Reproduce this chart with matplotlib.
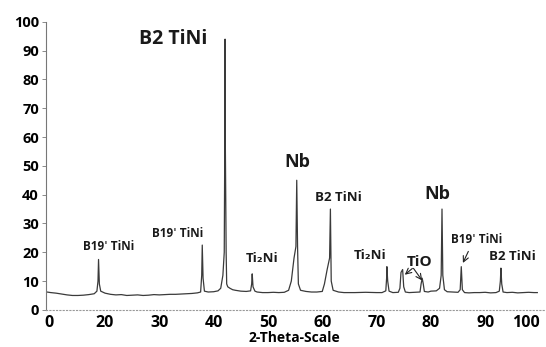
import matplotlib
matplotlib.use("Agg")
import matplotlib.pyplot as plt

# --- Data (2-theta, intensity) ---
two_theta = [9.3, 10, 11, 12, 13, 14, 15, 16, 17, 18, 18.5, 18.7, 18.8, 18.95, 19.2,
             20, 21, 22, 23, 24, 25, 26, 27, 28, 29, 30, 31, 32, 33, 34, 35, 36, 37,
             37.6, 37.8, 37.9, 38.05, 38.3, 39, 40, 40.8, 41.3, 41.7, 41.95, 42.05,
             42.1, 42.15, 42.3, 42.4, 42.6, 43, 43.5, 44, 45, 46, 46.8, 47.0, 47.1,
             47.25, 47.6, 48, 49, 50, 51, 52, 53, 53.8, 54.3, 54.8, 55.15, 55.3,
             55.45, 55.6, 56, 57, 58, 59, 60, 60.4, 60.9, 61.35, 61.5, 61.65, 62, 63,
             64, 66, 68, 70, 71, 71.7, 71.85, 71.9, 72.05, 72.3, 73, 74, 74.3, 74.5,
             74.8, 75, 75.3, 76, 77, 78, 78.2, 78.4, 78.6, 78.8, 79.5, 80, 81, 81.6,
             81.9, 82.05, 82.2, 82.5, 83, 84, 85, 85.4, 85.6, 85.8, 86.2, 87, 88, 89,
             90, 91, 92, 92.6, 92.8, 92.9, 93.05, 93.3, 94, 95, 96, 97, 98, 99, 99.6]
intensity = [6.2, 6.0, 5.8, 5.5, 5.2, 5.0, 5.0, 5.1, 5.3, 5.6, 6.5, 10, 17.5, 9, 6.5,
             5.8, 5.4, 5.2, 5.3, 5.0, 5.1, 5.2, 5.0, 5.1, 5.3, 5.2, 5.3, 5.4, 5.4, 5.5,
             5.6, 5.7, 5.9, 6.2, 12, 22.5, 11, 6.5, 6.2, 6.3, 6.6, 7.5, 12, 20, 58,
             94, 58, 20, 9, 8, 7.5, 7, 6.8, 6.5, 6.4, 6.6, 9, 12.5, 8, 6.5, 6.2, 6.0,
             6.0, 6.1, 6.0, 6.1, 6.8, 10, 18, 22, 45, 22, 9, 6.8, 6.4, 6.2, 6.2, 6.4,
             9, 14, 18, 35, 10, 6.8, 6.2, 6.0, 6.0, 6.1, 6.0, 6.0, 6.6, 11, 15, 10,
             6.5, 6.0, 6.1, 7.5, 13, 14, 8, 6.2, 6.0, 6.1, 6.2, 9, 11, 9, 6.4, 6.2,
             6.5, 6.6, 7.5, 12, 35, 12, 7, 6.3, 6.2, 6.1, 7, 15, 7, 6.0, 5.9, 6.0,
             6.0, 6.1, 5.9, 6.0, 6.5, 10, 14.5, 9, 6.2, 6.0, 6.1, 5.9, 6.0, 6.1, 6.0,
             6.0]

x_ticks = [9.6, 20, 30, 40, 50, 60, 70, 80, 90, 100]
x_tick_labels = ["0", "20", "30", "40", "50", "60", "70", "80", "90", "100"]
y_ticks = [0, 10, 20, 30, 40, 50, 60, 70, 80, 90, 100]

# phase labels: text, x, y, size
labels = ["B2 TiNi", "Nb", "B2 TiNi", "Nb", "B19ˈ TiNi", "B19ˈ TiNi",
          "Ti₂Ni", "Ti₂Ni", "TiO", "B19ˈ TiNi", "B2 TiNi"]
label_x = [32.5, 55.4, 62.9, 81.1, 20.6, 33.4, 48.9, 68.8, 78.0, 88.5, 95.1]
label_y = [94, 51.5, 39, 40.3, 22, 26.4, 17.7, 19, 16.7, 24.3, 18.4]
label_size = [14, 13, 9.5, 13, 8.5, 8.5, 9.5, 9.5, 11, 8.5, 9.5]

plt.rcParams['font.family'] = ['Open Sans', 'DejaVu Sans']

fig = plt.figure(figsize=(5.46, 3.47), dpi=100)
ax = fig.add_axes([0.084, 0.107, 0.912, 0.83])

ax.plot(two_theta, intensity, color='#3a3a3a', lw=0.9)

for txt, lx, ly, fs in zip(labels, label_x, label_y, label_size):
    ax.text(lx, ly, txt, ha='center', va='center', fontsize=fs,
            fontweight='bold', color='#1a1a1a')

# arrows
arrow = dict(arrowstyle='->', color='#222222', lw=0.8, shrinkA=0, shrinkB=0)
ax.annotate('', xy=(75.2, 12.2), xytext=(76.6, 14.4), arrowprops=arrow)
ax.annotate('', xy=(78.4, 10.2), xytext=(76.8, 14.4), arrowprops=arrow)
ax.annotate('', xy=(85.9, 16.3), xytext=(86.9, 20.3), arrowprops=arrow)

ax.set_xlim(9.1, 100.8)
ax.set_ylim(0, 100)
ax.set_xticks(x_ticks)
ax.set_xticklabels(x_tick_labels, fontsize=11.5, fontweight='bold')
ax.get_xticklabels()[-1].set_horizontalalignment('right')
ax.set_yticks(y_ticks)
ax.set_yticklabels([str(v) for v in y_ticks], fontsize=10.5, fontweight='bold')
ax.tick_params(axis='x', length=0, pad=4)
ax.tick_params(axis='y', length=3, width=0.6, color='#777777', pad=2)

for s in ['top', 'right']:
    ax.spines[s].set_visible(False)
ax.spines['left'].set_color('#777777')
ax.spines['left'].set_linewidth(0.8)
ax.spines['bottom'].set_color('#999999')
ax.spines['bottom'].set_linestyle((0, (1, 2)))
ax.spines['bottom'].set_linewidth(0.8)

ax.set_xlabel('2-Theta-Scale', fontsize=10, fontweight='bold', labelpad=0)

fig.savefig('out.png', dpi=100)
